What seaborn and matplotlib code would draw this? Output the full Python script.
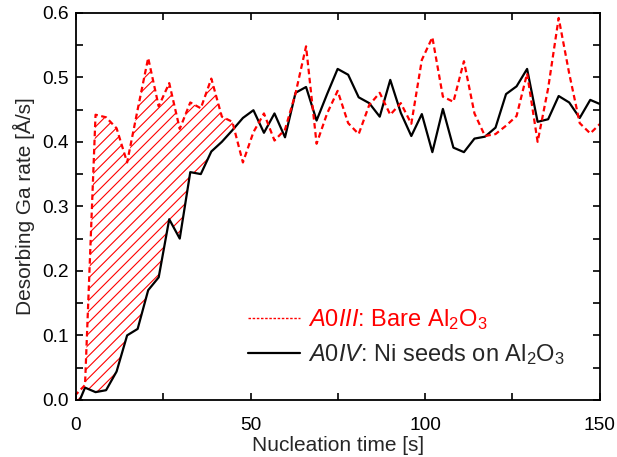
import numpy as np
import pandas as pd
import matplotlib
matplotlib.use("Agg")
import matplotlib.pyplot as plt
from matplotlib.lines import Line2D
from matplotlib.ticker import MultipleLocator
import seaborn as sns

# ---- data ----
time_s = np.linspace(-0.4, 150.3, 51)
rate_bare = [0.006, 0.023, 0.442, 0.438, 0.421, 0.368, 0.450, 0.530, 0.455, 0.491,
             0.420, 0.461, 0.452, 0.498, 0.439, 0.431, 0.368, 0.415, 0.444, 0.402,
             0.419, 0.475, 0.548, 0.397, 0.444, 0.479, 0.429, 0.412, 0.457, 0.476,
             0.442, 0.460, 0.428, 0.527, 0.562, 0.470, 0.462, 0.525, 0.444, 0.409,
             0.412, 0.425, 0.440, 0.506, 0.400, 0.483, 0.592, 0.506, 0.429, 0.413,
             0.429]
rate_ni = [-0.020, 0.019, 0.012, 0.015, 0.044, 0.100, 0.110, 0.170, 0.190, 0.280,
           0.250, 0.353, 0.350, 0.385, 0.400, 0.418, 0.437, 0.449, 0.414, 0.444,
           0.407, 0.476, 0.485, 0.433, 0.474, 0.513, 0.504, 0.469, 0.460, 0.439,
           0.496, 0.445, 0.409, 0.443, 0.384, 0.451, 0.391, 0.384, 0.405, 0.408,
           0.422, 0.474, 0.486, 0.513, 0.431, 0.435, 0.471, 0.461, 0.437, 0.465,
           0.458]
label_bare = r"$\mathit{A0III}$: Bare Al$_2$O$_3$"
label_ni = r"$\mathit{A0IV}$: Ni seeds on Al$_2$O$_3$"
hatch_end = 46.0

df = pd.DataFrame({"t": time_s, "bare": rate_bare, "ni": rate_ni})

sns.set_style("ticks")
plt.rcParams["font.family"] = ["Liberation Sans", "DejaVu Sans"]
plt.rcParams["mathtext.fontset"] = "custom"
plt.rcParams["mathtext.rm"] = "Liberation Sans"
plt.rcParams["mathtext.it"] = "Liberation Sans:italic"
plt.rcParams["hatch.linewidth"] = 0.8
plt.rcParams["hatch.color"] = "red"

fig = plt.figure(figsize=(6.17, 4.57), dpi=100)
ax = fig.add_axes([0.123, 0.125, 0.849, 0.847])

t = df["t"].to_numpy()
b = df["bare"].to_numpy()
n = df["ni"].to_numpy()
ax.fill_between(t, n, b, where=(b > n) & (t <= hatch_end), interpolate=True,
                facecolor="none", edgecolor="red", hatch="///", linewidth=0)

sns.lineplot(data=df, x="t", y="ni", ax=ax, color="black", linewidth=1.6,
             legend=False)
sns.lineplot(data=df, x="t", y="bare", ax=ax, color="red", linewidth=1.6,
             legend=False)
ax.lines[-1].set_dashes((2.5, 1.6))

ax.set_xlim(0, 150)
ax.set_ylim(0, 0.6)
ax.xaxis.set_major_locator(MultipleLocator(50))
ax.xaxis.set_minor_locator(MultipleLocator(25))
ax.yaxis.set_major_locator(MultipleLocator(0.1))
ax.yaxis.set_minor_locator(MultipleLocator(0.05))
ax.yaxis.set_major_formatter(matplotlib.ticker.FormatStrFormatter("%.1f"))
ax.tick_params(which="both", direction="in", top=True, right=True,
               labelsize=13.8, width=1.2, colors="black")
ax.tick_params(axis="x", which="both", pad=12)
ax.tick_params(axis="y", which="both", pad=5)
ax.tick_params(which="major", length=5)
ax.tick_params(which="minor", length=5)
for s in ax.spines.values():
    s.set_linewidth(1.3)
    s.set_color("black")

ax.set_xlabel("Nucleation time [s]", fontsize=15, labelpad=2)
ax.set_ylabel("Desorbing Ga rate [Å/s]", fontsize=15, labelpad=5)

handles = [Line2D([], [], color="red", linewidth=1.0, dashes=(1.8, 1.2)),
           Line2D([], [], color="black", linewidth=1.6)]
leg = ax.legend(handles, [label_bare, label_ni], loc="upper left",
                bbox_to_anchor=(0.328, 0.24), frameon=False, fontsize=17,
                handlelength=2.2, handletextpad=0.35, borderpad=0,
                borderaxespad=0, labelspacing=0.45)
leg.get_texts()[0].set_color("red")

fig.savefig("out.png", dpi=100)
